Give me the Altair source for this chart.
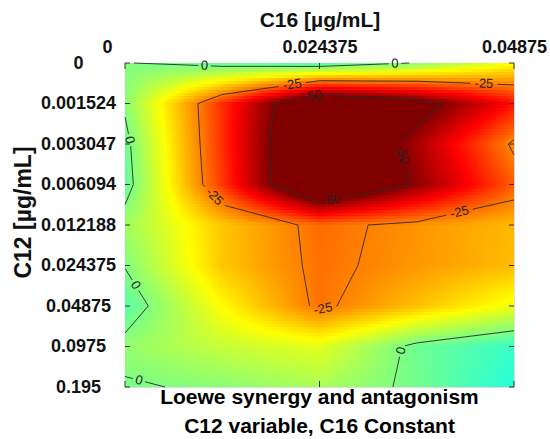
import math
import numpy as np
import pandas as pd
import altair as alt

# ---------------- data ----------------
c16_values = [0, 0.0121875, 0.024375, 0.0365625, 0.04875]          # columns (x)
c12_labels = ["0", "0.001524", "0.003047", "0.006094", "0.012188",
              "0.024375", "0.04875", "0.0975", "0.195"]              # rows (y, top->bottom)
loewe_r0 = [-0.3, 3, 6, -0.5, -12]
loewe_r1 = [-1, -33, -65, -55, -36]
loewe_r2 = [2, -33, -68, -46, -23.7]
loewe_r3 = [3, -32, -68, -48.6, -28.5]
loewe_r4 = [-3, -18, -27, -23, -19.3]
loewe_r5 = [-0.3, -18, -26.5, -22.7, -19]
loewe_r6 = [4, -12.7, -26.4, -18.6, -11]
loewe_r7 = [-2, -7, -10, 1.8, 7]
loewe_r8 = [0.7, -1, -4, 1.3, 9]
contour_levels = [-50, -25, 0]
x_tick_values = [0, 0.024375, 0.04875]
x_tick_labels = ["0", "0.024375", "0.04875"]
# contour labels: (level, cell row, cell col, fraction along that cell's segment, left->right)
contour_label_spots = [(0, 0, 0, 0.8), (0, 0, 2, 0.84), (-25, 0, 1, 0.72), (-25, 0, 3, 0.69),
                       (-50, 0, 1, 0.85), (-50, 2, 2, 0.27), (-50, 3, 2, 0.13), (-25, 3, 0, 0.6),
                       (-25, 3, 3, 0.44), (-25, 6, 2, 0.2), (0, 1, 0, 0.85), (0, 5, 0, 0.45),
                       (0, 7, 0, 0.35), (0, 7, 2, 0.9)]

grid = np.array([loewe_r0, loewe_r1, loewe_r2, loewe_r3, loewe_r4,
                 loewe_r5, loewe_r6, loewe_r7, loewe_r8], dtype=float)
NR, NC = grid.shape
W, H = 389, 324
cols_idx = np.arange(NC)


def to_c16(u):
    return float(np.interp(u, cols_idx, c16_values))


def bilinear(u, w):
    j = min(int(u), NC - 2); i = min(int(w), NR - 2)
    fu, fw = u - j, w - i
    return ((1 - fu) * (1 - fw) * grid[i, j] + fu * (1 - fw) * grid[i, j + 1]
            + (1 - fu) * fw * grid[i + 1, j] + fu * fw * grid[i + 1, j + 1])


# ---------------- shaded surface (rendering of the grid) ----------------
nx, ny = 130, 108
du, dw = (NC - 1) / nx, (NR - 1) / ny
cells = []
for a in range(ny):
    w0 = a * dw
    w1 = min(NR - 1, (a + 1.4) * dw)
    for b in range(nx):
        u0 = b * du
        u1 = min(NC - 1, (b + 1.4) * du)
        v = bilinear((b + 0.5) * du, (a + 0.5) * dw)
        cells.append({"x": round(to_c16(u0), 7), "x2": round(to_c16(u1), 7),
                      "y": round(w0, 4), "y2": round(w1, 4), "v": round(v, 2)})
fill_df = pd.DataFrame(cells)

# ---------------- contour segments (marching squares on the grid) ----------------
def px(p):
    return (p[0] * W / (NC - 1), p[1] * H / (NR - 1))


def cross(p, q, va, vb, L):
    t = (L - va) / (vb - va)
    return (p[0] + t * (q[0] - p[0]), p[1] + t * (q[1] - p[1]))


def ordered(a_, b_):
    return (a_, b_) if (a_[0], a_[1]) <= (b_[0], b_[1]) else (b_, a_)


segments = {}
for L in contour_levels:
    for i in range(NR - 1):
        for j in range(NC - 1):
            v00, v01 = grid[i, j], grid[i, j + 1]
            v10, v11 = grid[i + 1, j], grid[i + 1, j + 1]
            P00, P01, P10, P11 = (j, i), (j + 1, i), (j, i + 1), (j + 1, i + 1)
            e = {}
            if (v00 - L) * (v01 - L) < 0: e["t"] = cross(P00, P01, v00, v01, L)
            if (v01 - L) * (v11 - L) < 0: e["r"] = cross(P01, P11, v01, v11, L)
            if (v10 - L) * (v11 - L) < 0: e["b"] = cross(P10, P11, v10, v11, L)
            if (v00 - L) * (v10 - L) < 0: e["l"] = cross(P00, P10, v00, v10, L)
            segs = []
            if len(e) == 2:
                a_, b_ = list(e.values())
                segs.append(ordered(a_, b_))
            elif len(e) == 4:
                c = (v00 + v01 + v10 + v11) / 4
                if (c - L) * (v00 - L) > 0:
                    segs += [ordered(e["t"], e["r"]), ordered(e["b"], e["l"])]
                else:
                    segs += [ordered(e["t"], e["l"]), ordered(e["b"], e["r"])]
            if segs:
                segments[(L, i, j)] = segs

# contour labels and gaps
labels = []
gaps = []
for (L, i, j, t) in contour_label_spots:
    p0, p1 = segments[(L, i, j)][0]
    q0, q1 = px(p0), px(p1)
    P = (q0[0] + t * (q1[0] - q0[0]), q0[1] + t * (q1[1] - q0[1]))
    ang = math.degrees(math.atan2(q1[1] - q0[1], q1[0] - q0[0]))
    while ang > 90: ang -= 180
    while ang <= -90: ang += 180
    txt = str(L)
    labels.append({"x": to_c16(P[0] * (NC - 1) / W), "y": P[1] * (NR - 1) / H,
                   "txt": txt, "ang": ang % 360})
    gaps.append((L, P, len(txt) * 3.7 + 2.5))

lines = []
for (L, i, j), segs in segments.items():
    for (p0, p1) in segs:
        q0, q1 = np.array(px(p0)), np.array(px(p1))
        d = q1 - q0
        removed = []
        for (GL, P, r) in gaps:
            if GL != L:
                continue
            f = q0 - np.array(P)
            A = d @ d; B = 2 * f @ d; C = f @ f - r * r
            disc = B * B - 4 * A * C
            if disc <= 0 or A == 0:
                continue
            s = math.sqrt(disc)
            t1, t2 = (-B - s) / (2 * A), (-B + s) / (2 * A)
            lo, hi = max(0, t1), min(1, t2)
            if lo < hi:
                removed.append((lo, hi))
        removed.sort()
        keep, cur = [], 0.0
        for lo, hi in removed:
            if lo > cur: keep.append((cur, lo))
            cur = max(cur, hi)
        if cur < 1: keep.append((cur, 1.0))
        for a_, b_ in keep:
            s0 = (p0[0] + a_ * (p1[0] - p0[0]), p0[1] + a_ * (p1[1] - p0[1]))
            s1 = (p0[0] + b_ * (p1[0] - p0[0]), p0[1] + b_ * (p1[1] - p0[1]))
            lines.append({"x": to_c16(s0[0]), "y": s0[1], "x2": to_c16(s1[0]), "y2": s1[1]})
lines_df = pd.DataFrame(lines)
labels_df = pd.DataFrame(labels)
yticks_df = pd.DataFrame({"y": list(range(NR))})
xticks_df = pd.DataFrame({"x": x_tick_values})

# ---------------- scales & axes ----------------
FONT = "Liberation Sans"
xs = alt.Scale(domain=[c16_values[0], c16_values[-1]], nice=False, zero=False)
ys = alt.Scale(domain=[0, NR - 1], nice=False, zero=False, reverse=True)
cs = alt.Scale(domain=[-50, -37.5, -25, -12.5, 0, 12.5, 25, 37.5, 50],
               range=["#800000", "#ff0000", "#ff8000", "#ffff00", "#80ff80",
                      "#00ffff", "#0080ff", "#0000ff", "#000080"],
               clamp=True, interpolate="rgb")

x_label_expr = ("[" + ",".join("'%s'" % s for s in x_tick_labels) + "][indexof(["
                + ",".join(repr(v) for v in x_tick_values) + "], datum.value)]")
y_label_expr = "[" + ",".join("'%s'" % s for s in c12_labels) + "][round(datum.value)]"

x_axis = alt.Axis(orient="top", values=x_tick_values, labelExpr=x_label_expr,
                  title="C16 [µg/mL]", grid=False, domain=False, ticks=False,
                  labelFlush=False, labelOverlap=False, labelPadding=11,
                  labelBaseline="alphabetic",
                  labelOffset={"condition": {"test": "datum.value == 0", "value": -18}, "value": 0},
                  labelFont=FONT, labelFontSize=18, labelFontWeight="bold", labelColor="#111",
                  titleFont=FONT, titleFontSize=21, titleFontWeight="bold", titleColor="#111",
                  titleX=W / 2, titleY=-37, titleBaseline="alphabetic", titleAlign="center")
y_axis = alt.Axis(orient="left", values=list(range(NR)), labelExpr=y_label_expr,
                  title="C12 [µg/mL]", grid=False, domain=False, ticks=False, tickSize=0,
                  labelFlush=False, labelOverlap=False, labelAlign="center",
                  labelBaseline="middle", labelPadding=47,
                  labelFont=FONT, labelFontSize=18, labelFontWeight="bold", labelColor="#111",
                  titleFont=FONT, titleFontSize=23, titleFontWeight="bold", titleColor="#111",
                  titleX=-102, titleY=149, titleAngle=270, titleAlign="center",
                  titleBaseline="middle")

X = lambda f="x": alt.X(f + ":Q", scale=xs, axis=x_axis)
Y = lambda f="y": alt.Y(f + ":Q", scale=ys, axis=y_axis)

fill = alt.Chart(fill_df).mark_rect(strokeWidth=0).encode(
    x=X(), x2="x2:Q", y=Y(), y2="y2:Q",
    color=alt.Color("v:Q", scale=cs, legend=None),
)

contours = alt.Chart(lines_df).mark_rule(color="#2a2a2a", strokeWidth=0.9).encode(
    x=X(), x2="x2:Q", y=Y(), y2="y2:Q",
)

clabels = alt.Chart(labels_df).mark_text(font=FONT, fontSize=13, color="#222",
                                         baseline="middle", align="center").encode(
    x=X(), y=Y(),
    text="txt:N",
    angle=alt.Angle("ang:Q", scale=None),
)

tick_style = dict(color="#333", strokeWidth=1)
yt_left = alt.Chart(yticks_df).mark_rule(**tick_style).encode(
    y=Y(), x=alt.value(0), x2=alt.value(5))
yt_right = alt.Chart(yticks_df).mark_rule(**tick_style).encode(
    y=Y(), x=alt.value(W - 5), x2=alt.value(W))
xt_top = alt.Chart(xticks_df).mark_rule(**tick_style).encode(
    x=X(), y=alt.value(0), y2=alt.value(6))
xt_bottom = alt.Chart(xticks_df).mark_rule(**tick_style).encode(
    x=X(), y=alt.value(H - 6), y2=alt.value(H))

chart = alt.layer(fill, contours, clabels, yt_left, yt_right, xt_top, xt_bottom).properties(
    width=W, height=H,
    autosize=alt.AutoSizeParams(type="none"),
    padding={"left": 125, "top": 63, "right": 36, "bottom": 52},
    title=alt.TitleParams(text=["Loewe synergy and antagonism", "C12 variable, C16 Constant"],
                          orient="bottom", anchor="middle", font=FONT, fontSize=21,
                          fontWeight="bold", color="#000", offset=-9, lineHeight=29,
                          baseline="top"),
).configure_view(stroke="#3a3a3a", strokeWidth=1).configure(background="white")

chart.save("out.html", embed_options={"renderer": "svg", "actions": False})
